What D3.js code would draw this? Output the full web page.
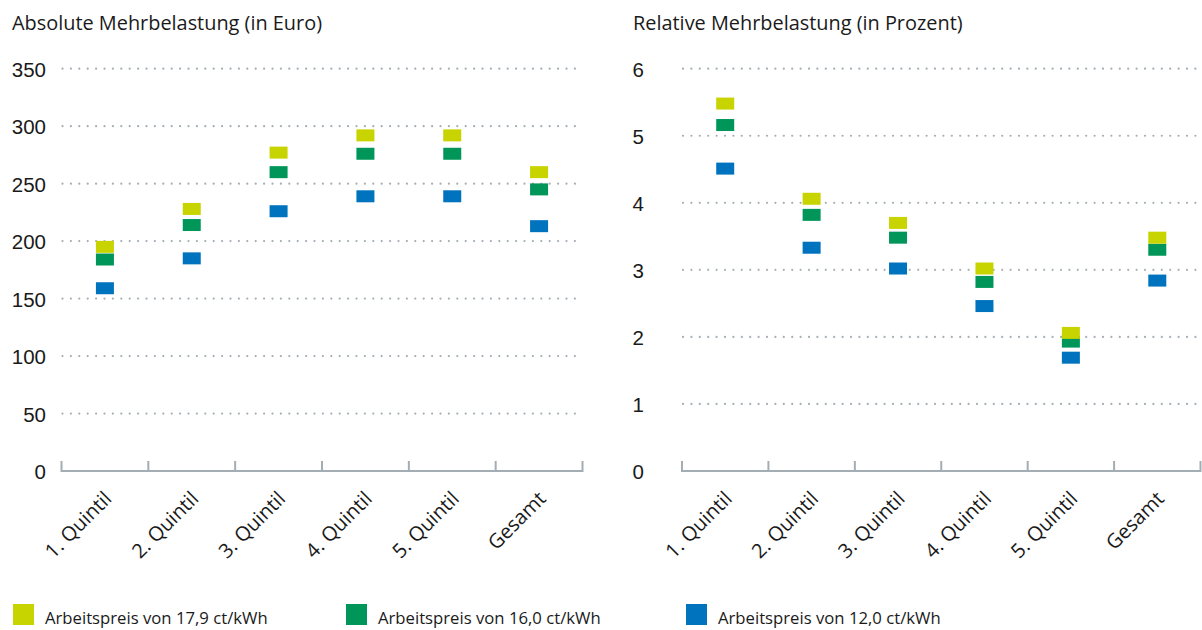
<!DOCTYPE html>
<html lang="de">
<head>
<meta charset="utf-8">
<script src="https://cdn.jsdelivr.net/npm/d3@7"></script>
<style>
  html, body { margin: 0; padding: 0; background: #fff; }
  svg { display: block; font-family: "Open Sans", Lato, sans-serif; }
  .title { font-size: 19.9px; fill: #1a1a1a; }
  .ylab text { font-size: 20.5px; fill: #1a1a1a; }
  .xlab { font-size: 20px; fill: #1a1a1a; }
  .legend text { font-size: 16.7px; fill: #1a1a1a; }
</style>
</head>
<body>
<svg id="chart" width="1202" height="630"></svg>
<script>
// Kategorien (Einkommensquintile)
const categories = ["1. Quintil", "2. Quintil", "3. Quintil", "4. Quintil", "5. Quintil", "Gesamt"];

// Absolute Mehrbelastung in Euro je Arbeitspreis
const abs179 = [195, 228, 277, 292, 292, 260];
const abs160 = [184, 214, 260, 276, 276, 245];
const abs120 = [159, 185, 226, 239, 239, 213];

// Relative Mehrbelastung in Prozent je Arbeitspreis
const rel179 = [5.48, 4.06, 3.70, 3.02, 2.06, 3.48];
const rel160 = [5.16, 3.82, 3.48, 2.82, 1.93, 3.30];
const rel120 = [4.51, 3.33, 3.02, 2.46, 1.69, 2.84];

// Achsenbeschriftungen
const absTicks = [0, 50, 100, 150, 200, 250, 300, 350];
const relTicks = [0, 1, 2, 3, 4, 5, 6];

// Serien (Reihenfolge der Legende)
const seriesNames = ["Arbeitspreis von 17,9 ct/kWh", "Arbeitspreis von 16,0 ct/kWh", "Arbeitspreis von 12,0 ct/kWh"];
const seriesColors = ["#c8d400", "#00965a", "#0073be"];

const svg = d3.select("#chart");
const gridColor = "#a3adb4";
const yTop = 68.7, yBottom = 471;
const markW = 18, markH = 12;

function panel(opts) {
  const g = svg.append("g");
  const x = d3.scaleBand().domain(categories).range([opts.x0, opts.x1]).padding(0);
  const y = d3.scaleLinear().domain([0, d3.max(opts.ticks)]).range([yBottom, yTop]);

  g.append("text").attr("class", "title")
    .attr("x", opts.titleX).attr("y", 30).text(opts.title);

  // gepunktete Gitterlinien
  g.append("g").selectAll("line")
    .data(opts.ticks.filter(t => t > 0))
    .join("line")
    .attr("x1", opts.x0 + 1).attr("x2", opts.x1)
    .attr("y1", d => y(d)).attr("y2", d => y(d))
    .attr("stroke", gridColor).attr("stroke-width", 2.2)
    .attr("stroke-linecap", "round")
    .attr("stroke-dasharray", "0,8.4");

  // Y-Achse (nur Beschriftung)
  const yAxis = d3.axisLeft(y).tickValues(opts.ticks).tickSize(0).tickPadding(0)
    .tickFormat(d3.format("d"));
  g.append("g").attr("class", "ylab")
    .attr("transform", `translate(${opts.labelX},1)`)
    .call(yAxis)
    .call(s => s.select(".domain").remove())
    .call(s => s.selectAll("text").attr("font-family", null).attr("font-size", null));

  // X-Achse mit Trennstrichen zwischen den Kategorien
  const bounds = categories.map(c => x(c)).concat([opts.x1]);
  g.append("line")
    .attr("x1", opts.x0).attr("x2", opts.x1)
    .attr("y1", yBottom).attr("y2", yBottom)
    .attr("stroke", gridColor).attr("stroke-width", 2);
  g.append("g").selectAll("line")
    .data(bounds).join("line")
    .attr("x1", d => d).attr("x2", d => d)
    .attr("y1", yBottom + 1).attr("y2", yBottom - 10)
    .attr("stroke", gridColor).attr("stroke-width", 2);

  g.append("g").selectAll("text")
    .data(categories).join("text")
    .attr("class", "xlab")
    .attr("text-anchor", "end")
    .attr("transform", d => `translate(${x(d) + x.bandwidth() / 2 + 8},${yBottom + 29}) rotate(-45)`)
    .text(d => d);

  // Markierungen: blau zuerst, gelb zuoberst
  [2, 1, 0].forEach(i => {
    g.append("g").selectAll("rect")
      .data(opts.series[i].map((v, k) => ({ c: categories[k], v })))
      .join("rect")
      .attr("x", d => x(d.c) + x.bandwidth() / 2 - markW / 2)
      .attr("y", d => y(d.v) - markH / 2)
      .attr("width", markW).attr("height", markH)
      .attr("fill", seriesColors[i]);
  });
}

panel({
  x0: 61.5, x1: 582.5, labelX: 46, titleX: 12,
  title: "Absolute Mehrbelastung (in Euro)",
  ticks: absTicks, series: [abs179, abs160, abs120]
});

panel({
  x0: 682, x1: 1200.5, labelX: 644, titleX: 633,
  title: "Relative Mehrbelastung (in Prozent)",
  ticks: relTicks, series: [rel179, rel160, rel120]
});

// Legende
const legendX = [13, 346, 686];
const lg = svg.append("g").attr("class", "legend");
seriesNames.forEach((name, i) => {
  lg.append("rect").attr("x", legendX[i]).attr("y", 604)
    .attr("width", 21).attr("height", 21).attr("fill", seriesColors[i]);
  lg.append("text").attr("x", legendX[i] + 32).attr("y", 624).text(name);
});
</script>
</body>
</html>
